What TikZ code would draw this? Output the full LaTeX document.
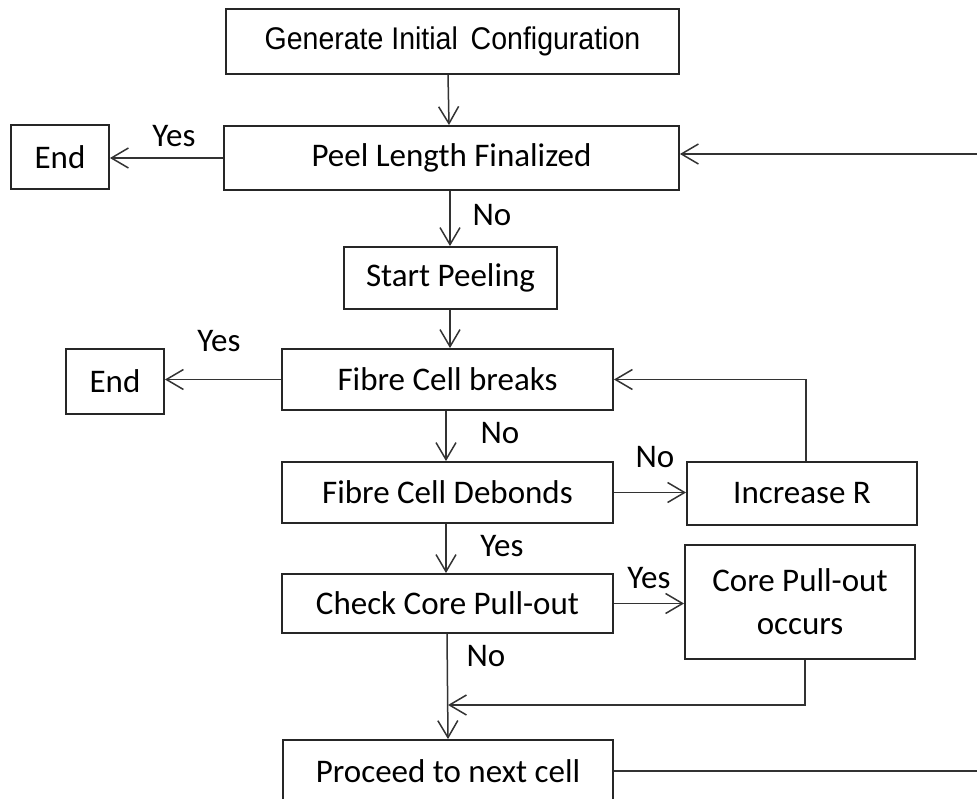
\documentclass[tikz,border=0pt]{standalone}
\usepackage{fontspec}
\setmainfont{Carlito}
\newfontfamily\arialfont{Liberation Sans}
\usetikzlibrary{arrows.meta}

\tikzset{
  box/.style={draw=black!85, line width=1.9pt, rectangle, inner sep=0pt,
    font=\fontsize{33}{38}\selectfont, text=black},
  lbl/.style={font=\fontsize{33}{38}\selectfont, text=black, inner sep=0pt},
  conn/.style={draw=black!80, line width=1.5pt},
  arr/.style={conn, -{Straight Barb[length=17pt,width=20pt,line width=1.5pt]}}
}

\begin{document}
\begin{tikzpicture}[x=1pt, y=-1pt]
  \useasboundingbox (0,0) rectangle (977,798);

  % process boxes
  \node[box, minimum width=453pt, minimum height=65pt] (gen) at (452.5,41.5)
    {\arialfont\fontsize{28.5}{34}\selectfont\scalebox{1}[1.1]{Generate Initial\hspace{0.45em}Configuration}};
  \node[box, minimum width=455pt, minimum height=64pt] (peel) at (451.5,158) {Peel Length Finalized};
  \node[box, minimum width=98pt, minimum height=64pt] (end1) at (60,157) {End};
  \node[box, minimum width=213pt, minimum height=62pt] (start) at (450.5,278) {Start Peeling};
  \node[box, minimum width=331pt, minimum height=61pt] (breaks) at (447.5,379.5) {Fibre Cell breaks};
  \node[box, minimum width=98pt, minimum height=65pt] (end2) at (115,381.5) {End};
  \node[box, minimum width=331pt, minimum height=61pt] (debonds) at (447.5,492.5) {Fibre Cell Debonds};
  \node[box, minimum width=230pt, minimum height=63pt] (incR) at (802,493.5) {Increase R};
  \node[box, minimum width=331pt, minimum height=59pt] (check) at (447.5,603.5) {Check Core Pull-out};
  \node[box, minimum width=230pt, minimum height=114pt, align=center,
        font=\fontsize{33}{43}\selectfont] (core) at (800,602) {Core Pull-out\\occurs};
  \node[box, minimum width=330pt, minimum height=62pt] (proceed) at (448,771) {Proceed to next cell};

  % helper points for the merge and the loop back
  \coordinate (join) at (448,705);
  \coordinate (r1) at (990,771);
  \coordinate (r2) at (990,154);

  % main flow
  \draw[arr] ([xshift=-4.5pt]gen.south) -- ([xshift=-2.5pt]peel.north);
  \draw[arr] ([xshift=-1.5pt]peel.south) -- ([xshift=-0.5pt]start.north);
  \draw[arr] ([xshift=-0.5pt]start.south) -- ([xshift=2.5pt]breaks.north);
  \draw[arr] ([xshift=-1.5pt]breaks.south) -- ([xshift=-1.5pt]debonds.north);
  \draw[arr] ([xshift=-1.5pt]debonds.south) -- ([xshift=-1.5pt]check.north);
  \draw[arr] ([xshift=-0.5pt]check.south) -- (proceed.north);

  % branches
  \draw[arr] (peel.west) -- (end1.east |- peel.west);
  \draw[arr] (breaks.west) -- (end2.east |- breaks.west);
  \draw[arr] (debonds.east) -- (incR.west |- debonds.east);
  \draw[arr] ([xshift=4pt]incR.north) |- (breaks.east);
  \draw[arr] (check.east) -- (core.west |- check.east);
  \draw[arr] ([xshift=5pt]core.south) |- (join);

  % loop back to the top
  \draw[conn] (proceed.east) -- (r1) -- (r2);
  \draw[arr] (r2) -- (peel.east |- r2);

  % branch labels
  \node[lbl] (y1) at (174,136) {Yes};
  \node[lbl] (n1) at (492,215) {No};
  \node[lbl] (y2) at (219,341) {Yes};
  \node[lbl] (n2) at (500,433) {No};
  \node[lbl] (n3) at (655,457) {No};
  \node[lbl] (y3) at (502,546) {Yes};
  \node[lbl] (y4) at (649,578) {Yes};
  \node[lbl] (n4) at (486,656) {No};
\end{tikzpicture}
\end{document}
